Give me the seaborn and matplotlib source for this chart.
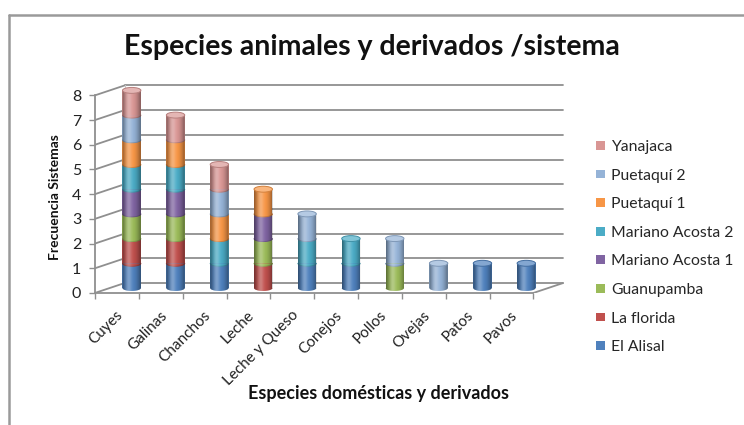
import numpy as np
import matplotlib
matplotlib.use("Agg")
import matplotlib.pyplot as plt
import seaborn as sns
from matplotlib.patches import Ellipse, Patch, Polygon
from matplotlib.lines import Line2D
from matplotlib.colors import to_rgb

# ---- data -------------------------------------------------------------
categorias = ["Cuyes", "Galinas", "Chanchos", "Leche", "Leche y Queso",
              "Conejos", "Pollos", "Ovejas", "Patos", "Pavos"]
sistemas = ["El Alisal", "La florida", "Guanupamba", "Mariano Acosta 1",
            "Mariano Acosta 2", "Puetaquí 1", "Puetaquí 2", "Yanajaca"]

el_alisal        = [1, 1, 1, 0, 1, 1, 0, 0, 1, 1]
la_florida       = [1, 1, 0, 1, 0, 0, 0, 0, 0, 0]
guanupamba       = [1, 1, 0, 1, 0, 0, 1, 0, 0, 0]
mariano_acosta_1 = [1, 1, 0, 1, 0, 0, 0, 0, 0, 0]
mariano_acosta_2 = [1, 1, 1, 0, 1, 1, 0, 0, 0, 0]
puetaqui_1       = [1, 1, 1, 1, 0, 0, 0, 0, 0, 0]
puetaqui_2       = [1, 0, 1, 0, 1, 0, 1, 1, 0, 0]
yanajaca         = [1, 1, 1, 0, 0, 0, 0, 0, 0, 0]

y_ticks = [0, 1, 2, 3, 4, 5, 6, 7, 8]

colores = ["#4F81BD", "#C0504D", "#9BBB59", "#8064A2",
           "#4BACC6", "#F79646", "#95B3D7", "#D99694"]

series = [el_alisal, la_florida, guanupamba, mariano_acosta_1,
          mariano_acosta_2, puetaqui_1, puetaqui_2, yanajaca]

# ---- style ------------------------------------------------------------
sns.set_theme(style="white")
FONT = ["Lato", "DejaVu Sans"]
plt.rcParams["font.family"] = FONT

W_PX, H_PX, DPI = 744, 425, 100
fig = plt.figure(figsize=(W_PX / DPI, H_PX / DPI), dpi=DPI)

# axes placed in pixel terms
ax_l, ax_r, ax_t, ax_b = 95, 580, 70, 293
ax = fig.add_axes([ax_l / W_PX, 1 - ax_b / H_PX,
                   (ax_r - ax_l) / W_PX, (ax_b - ax_t) / H_PX])

# pseudo-3D geometry (data units)
BAR_W = 0.42
DX, DY = 0.337, 0.2          # half depth offsets (x categories, y values)
ELL_H = 0.24                 # ellipse height of cylinder caps
n = len(categorias)
x_front_l, x_front_r = -0.5 - DX, n - 0.5 - DX
x_back_l, x_back_r = -0.5 + DX, n - 0.5 + DX

grid_c = "#8f8f8f"
# back wall gridlines with slanted side-wall stubs
for v in y_ticks:
    ax.plot([x_back_l, x_back_r], [v + DY, v + DY], color=grid_c, lw=1.3, zorder=1)
    ax.plot([x_front_l, x_back_l], [v - DY, v + DY], color=grid_c, lw=1.3, zorder=1)
# floor
ax.plot([x_front_r, x_back_r], [-DY, DY], color=grid_c, lw=1.3, zorder=1)
ax.plot([x_back_l, x_back_l], [DY, y_ticks[-1] + DY], color="#c8c8c8", lw=0.8, zorder=1)

# stacked cylinders: cumulative layers, drawn from the top series down
cum = np.cumsum(np.array(series), axis=0)
for k in range(len(series) - 1, -1, -1):
    sns.barplot(x=categorias, y=cum[k], order=categorias, color=colores[k],
                saturation=1, width=BAR_W, errorbar=None, ax=ax,
                edgecolor="none", zorder=2)


def darker(c, f=0.8):
    return tuple(np.array(to_rgb(c)) * f)


def lighter(c, f=0.35):
    r = np.array(to_rgb(c))
    return tuple(r + (1 - r) * f)


t_low = np.linspace(np.pi, 2 * np.pi, 40)
t_up = np.linspace(0, np.pi, 40)

# horizontal shading for the cylinder look
tt = np.linspace(0, 1, 200)
dark_a = 0.42 * (1 - np.sin(np.pi * tt)) ** 1.2
grad_dark = np.zeros((1, tt.size, 4))
grad_dark[..., 3] = dark_a
light_a = 0.28 * np.exp(-((tt - 0.35) / 0.16) ** 2)
grad_light = np.ones((1, tt.size, 4))
grad_light[..., 3] = light_a

for i in range(n):
    total = cum[-1][i]
    if total <= 0:
        continue
    # rounded bottom / segment boundaries: lower half ellipse of each segment
    base = 0
    for k in range(len(series)):
        if series[k][i] <= 0:
            continue
        xs = i + BAR_W / 2 * np.cos(t_low)
        ys = base + ELL_H / 2 * np.sin(t_low)
        ax.add_patch(Polygon(np.column_stack([xs, ys]), closed=True,
                             facecolor=colores[k], edgecolor="none", zorder=2.5))
        if base > 0:
            ax.plot(xs, ys, color=darker(colores[k], 0.85), lw=0.7, zorder=2.6)
        base += series[k][i]
    # silhouette for clipping the shading
    xs = np.concatenate([i + BAR_W / 2 * np.cos(t_low),
                         i + BAR_W / 2 * np.cos(t_up)])
    ys = np.concatenate([ELL_H / 2 * np.sin(t_low),
                         total + ELL_H / 2 * np.sin(t_up)])
    sil = Polygon(np.column_stack([xs, ys]), closed=True, facecolor="none",
                  edgecolor="none", transform=ax.transData)
    ax.add_patch(sil)
    for g in (grad_dark, grad_light):
        im = ax.imshow(g, extent=[i - BAR_W / 2, i + BAR_W / 2,
                                  -ELL_H / 2, total + ELL_H / 2],
                       aspect="auto", interpolation="bilinear", zorder=3)
        im.set_clip_path(sil)
    # top cap
    top_k = max(k for k in range(len(series)) if series[k][i] > 0)
    ax.add_patch(Ellipse((i, total), BAR_W, ELL_H,
                         facecolor=lighter(colores[top_k], 0.3),
                         edgecolor=darker(colores[top_k], 0.85), lw=0.7, zorder=4))

# axes limits, spines and ticks
x_lo = (ax_l - 125) / 44.5
x_hi = (ax_r - 125) / 44.5
px_per_unit = 24.7
y_lo = (288 - ax_b) / px_per_unit
y_hi = (288 - ax_t) / px_per_unit
ax.set_xlim(x_lo, x_hi)
ax.set_ylim(y_lo, y_hi)

for s in ("top", "right"):
    ax.spines[s].set_visible(False)
ax.spines["left"].set_color(grid_c)
ax.spines["left"].set_linewidth(1.3)
ax.spines["left"].set_bounds(-DY, y_ticks[-1] - DY)
ax.spines["bottom"].set_color(grid_c)
ax.spines["bottom"].set_linewidth(1.3)
ax.spines["bottom"].set_bounds(x_front_l, x_front_r)
ax.spines["bottom"].set_position(("data", -DY))

ax.set_yticks([v - DY for v in y_ticks])
ax.set_yticklabels([str(v) for v in y_ticks])
ax.tick_params(axis="y", length=4, width=1, color=grid_c, labelsize=11.5,
               labelcolor="#222222", pad=6, left=True)

ax.set_xticks([i - 0.36 for i in range(n)])
ax.set_xticklabels(categorias, rotation=45, ha="right", va="top",
                   rotation_mode="anchor", fontsize=11, color="#222222")
ax.set_xticks([x_front_l + k for k in range(n + 1)], minor=True)
ax.tick_params(axis="x", which="major", length=0, pad=11)
ax.tick_params(axis="x", which="minor", length=4, width=1, color=grid_c,
               bottom=True)
ax.set_xlabel("")
ax.set_ylabel("")

# titles
fig.text(372 / W_PX, 1 - 47 / H_PX, "Especies animales y derivados /sistema",
         ha="center", va="center", fontsize=20.5, fontweight="bold", color="#111111")
fig.text(379 / W_PX, 1 - 393 / H_PX, "Especies domésticas y derivados",
         ha="center", va="center", fontsize=13, fontweight="bold", color="#111111")
fig.text(55 / W_PX, 1 - 197 / H_PX, "Frecuencia Sistemas", rotation=90,
         ha="center", va="center", fontsize=10, fontweight="bold", color="#111111")

# legend (top entry = last series)
handles = [Patch(facecolor=colores[k], edgecolor="none") for k in range(len(sistemas) - 1, -1, -1)]
labels = [sistemas[k] for k in range(len(sistemas) - 1, -1, -1)]
fig.legend(handles, labels, loc="upper left",
           bbox_to_anchor=(596 / W_PX, 1 - 140 / H_PX), frameon=False,
           fontsize=11.3, handlelength=0.6, handleheight=0.5, handletextpad=0.35,
           labelspacing=0.93, borderaxespad=0, borderpad=0)

# outer chart frame
fig.add_artist(Line2D([9 / W_PX, 9 / W_PX], [0, 1 - 15 / H_PX],
                      transform=fig.transFigure, color="#9a9a9a", lw=1.8))
fig.add_artist(Line2D([9 / W_PX, 1], [1 - 15 / H_PX, 1 - 15 / H_PX],
                      transform=fig.transFigure, color="#9a9a9a", lw=1.8))

fig.savefig("out.png", dpi=DPI, facecolor="white")
